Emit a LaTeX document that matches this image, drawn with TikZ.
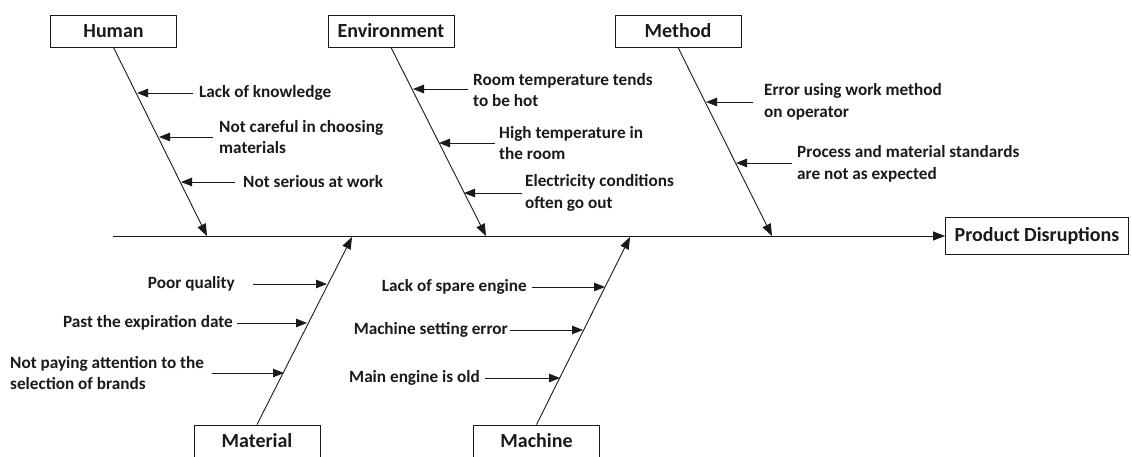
\documentclass[tikz,border=0pt]{standalone}
\usepackage{fontspec}
\setmainfont{Carlito}
\usetikzlibrary{arrows.meta}
\definecolor{ink}{HTML}{1A1A1A}
\tikzset{
  catbox/.style={draw=ink, line width=0.9pt, minimum width=126pt, minimum height=32pt, inner sep=0pt,
    font=\fontsize{20}{24}\selectfont\bfseries, text=ink},
  effbox/.style={catbox, minimum width=183pt, minimum height=37pt},
  cause/.style={font=\fontsize{17.2}{21.5}\selectfont\bfseries, text=ink, align=left, inner sep=0pt},
  bone/.style={draw=ink, line width=0.9pt, -{Triangle[length=12pt,width=9pt]}},
  twig/.style={draw=ink, line width=0.9pt, -{Triangle[length=11pt,width=8.5pt]}}
}
\begin{document}
\begin{tikzpicture}[x=1pt,y=-1pt]
\useasboundingbox (0,0) rectangle (1132,456);
% category boxes
\node[catbox] (human) at (113.5,31) {Human};
\node[catbox] (env) at (391,31) {Environment};
\node[catbox] (method) at (678,31) {Method};
\node[catbox] (material) at (257,441) {Material};
\node[catbox] (machine) at (536.5,441) {Machine};
\node[effbox] (effect) at (1037,236) {Product Disruptions};
% spine
\coordinate (spine) at (113,236);
\coordinate (hj) at (207,236);
\coordinate (ej) at (486,236);
\coordinate (mj) at (772,236);
\coordinate (matj) at (352,237);
\coordinate (macj) at (630,237);
\draw[bone] (spine) -- (effect.west);
\draw[bone] (human.south) -- (hj);
\draw[bone] (env.south) -- (ej);
\draw[bone] (method.south) -- (mj);
\draw[bone] (material.north) -- (matj);
\draw[bone] (machine.north) -- (macj);
% Human causes
\coordinate (h1) at (137,93);
\coordinate (h2) at (159,137);
\coordinate (h3) at (181,182);
\node[cause, anchor=west] (hc1) at (199,93) {Lack of knowledge};
\node[cause, anchor=west] (hc2) at (219,137) {Not careful in choosing\\materials};
\node[cause, anchor=west] (hc3) at (243,182) {Not serious at work};
\draw[twig] ([xshift=-6pt]hc1.west) -- (h1);
\draw[twig] ([xshift=-6pt]hc2.west) -- (h2);
\draw[twig] ([xshift=-8pt]hc3.west) -- (h3);
% Environment causes
\coordinate (e1) at (413,89);
\coordinate (e2) at (439,143);
\coordinate (e3) at (464,193);
\node[cause, anchor=west] (ec1) at (473,90) {Room temperature tends\\to be hot};
\node[cause, anchor=west] (ec2) at (499,143) {High temperature in\\the room};
\node[cause, anchor=west] (ec3) at (525,193) {Electricity conditions\\often go out};
\draw[twig] ([xshift=-5pt]ec1.west|-e1) -- (e1);
\draw[twig] ([xshift=-4pt]ec2.west) -- (e2);
\draw[twig] ([xshift=-3pt]ec3.west) -- (e3);
% Method causes
\coordinate (m1) at (706,102);
\coordinate (m2) at (736,163);
\node[cause, anchor=west] (mc1) at (764,102) {Error using work method\\on operator};
\node[cause, anchor=west] (mc2) at (797,164) {Process and material standards\\are not as expected};
\draw[twig] ([xshift=-11pt]mc1.west) -- (m1);
\draw[twig] ([xshift=-5pt]mc2.west|-m2) -- (m2);
% Material causes
\coordinate (a1) at (327,284);
\coordinate (a2) at (307,323);
\coordinate (a3) at (284,373);
\node[cause, anchor=east] (ac1) at (235,284) {Poor quality};
\node[cause, anchor=east] (ac2) at (233,323) {Past the expiration date};
\node[cause, anchor=west] (ac3) at (10,373) {Not paying attention to the\\selection of brands};
\draw[twig] ([xshift=18pt]ac1.east) -- (a1);
\draw[twig] ([xshift=4pt]ac2.east|-a2) -- (a2);
\draw[twig] ([xshift=8pt]ac3.east) -- (a3);
% Machine causes
\coordinate (c1) at (605,287);
\coordinate (c2) at (583,330);
\coordinate (c3) at (560,378);
\node[cause, anchor=east] (cc1) at (527,287) {Lack of spare engine};
\node[cause, anchor=east] (cc2) at (508,330) {Machine setting error};
\node[cause, anchor=east] (cc3) at (480,378) {Main engine is old};
\draw[twig] ([xshift=5pt]cc1.east) -- (c1);
\draw[twig] ([xshift=2pt]cc2.east) -- (c2);
\draw[twig] ([xshift=5pt]cc3.east) -- (c3);
\end{tikzpicture}
\end{document}
